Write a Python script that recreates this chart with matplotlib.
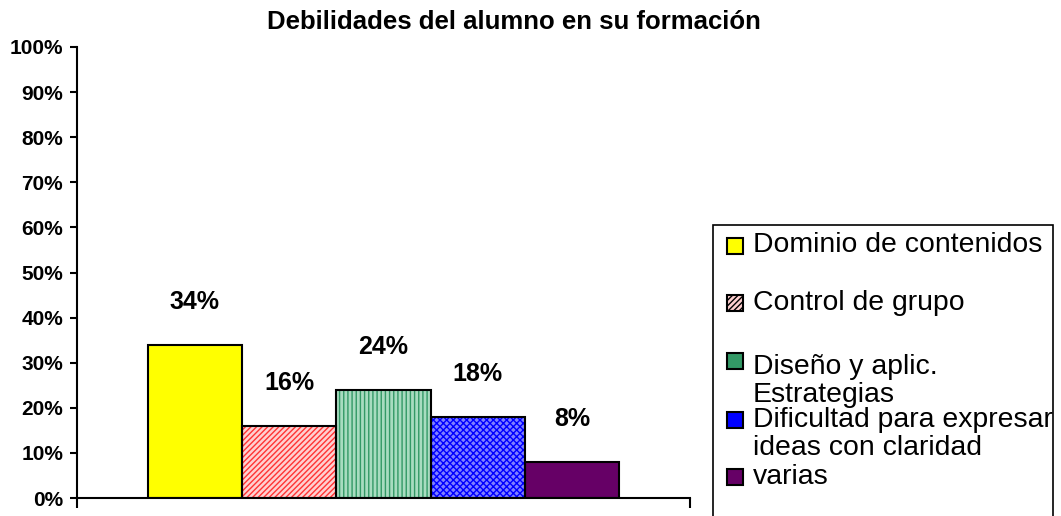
import matplotlib
matplotlib.use("Agg")
import matplotlib.pyplot as plt
from matplotlib.patches import Rectangle

plt.rcParams['font.family'] = ['Liberation Sans', 'DejaVu Sans']
plt.rcParams['hatch.linewidth'] = 1.0

title = "Debilidades del alumno en su formación"
categories = ["Dominio de contenidos", "Control de grupo",
              "Diseño y aplic.\nEstrategias",
              "Dificultad para expresar\nideas con claridad", "varias"]
values = [34, 16, 24, 18, 8]
value_labels = ["34%", "16%", "24%", "18%", "8%"]
yticks = [0, 10, 20, 30, 40, 50, 60, 70, 80, 90, 100]

face_colors = ["#ffff00", "#ffd0d0", "#a8dcc0", "#8080ff", "#660066"]
hatch_colors = ["#ffff00", "#ff3333", "#339966", "#0000ff", "#660066"]
hatches = [None, "//////", "||||", "xxxxx", None]
legend_colors = ["#ffff00", "#ffd0d0", "#339966", "#0000ff", "#660066"]
legend_hatches = [None, "//////", None, None, None]

W, H = 1061, 516
fig = plt.figure(figsize=(W / 100, H / 100), dpi=100)
ax = fig.add_axes([77 / W, 1 - 498 / H, (690 - 77) / W, (498 - 47) / H])

x = list(range(len(values)))
# hatched fill layer
for xi, v, fc, hc, h in zip(x, values, face_colors, hatch_colors, hatches):
    ax.bar(xi, v, width=1.0, color=fc, edgecolor=hc, linewidth=0, hatch=h, zorder=2)
# outline layer
ax.bar(x, values, width=1.0, facecolor='none', edgecolor='black', linewidth=1.5, zorder=3)

for xi, v, lab in zip(x, values, value_labels):
    ax.annotate(lab, (xi, v), xytext=(0, 31), textcoords='offset points',
                ha='center', va='center', fontsize=18, fontweight='bold')

ax.set_xlim(-1.25, 5.25)
ax.set_ylim(0, 100)
ax.set_yticks(yticks)
ax.set_yticklabels([f"{t}%" for t in yticks], fontsize=15, fontweight='bold')
ax.set_xticks([-1.25, 5.25])
ax.set_xticklabels([])
ax.tick_params(axis='x', direction='out', length=7, width=1.5)
ax.tick_params(axis='y', direction='out', length=5, width=1.5, pad=5)
for s in ['top', 'right']:
    ax.spines[s].set_visible(False)
for s in ['left', 'bottom']:
    ax.spines[s].set_linewidth(1.5)
ax.spines['bottom'].set_zorder(4)

fig.text(514 / W, 1 - 22 / H, title, ha='center', va='center',
         fontsize=18.5, fontweight='bold')

# Legend (drawn manually to mimic original layout, clipped at bottom)
fig.patches.append(Rectangle((713 / W, -0.05), (1053 - 713) / W, (1 - 225 / H) + 0.05,
                             transform=fig.transFigure, facecolor='white',
                             edgecolor='black', linewidth=1.2))
square_y = [246, 303, 361, 420, 477]
text_y = [245, 303, 381, 434, 477]
for cat, sy, ty, c, h in zip(categories, square_y, text_y, legend_colors, legend_hatches):
    sq = Rectangle((727 / W, 1 - (sy + 8) / H), 16 / W, 16 / H, transform=fig.transFigure,
                   facecolor=c, edgecolor='black', linewidth=1.5, hatch=h)
    fig.patches.append(sq)
    fig.text(753 / W, 1 - ty / H, cat, ha='left', va='center', fontsize=20.4,
             linespacing=1.07)

fig.savefig("out.png", dpi=100)
